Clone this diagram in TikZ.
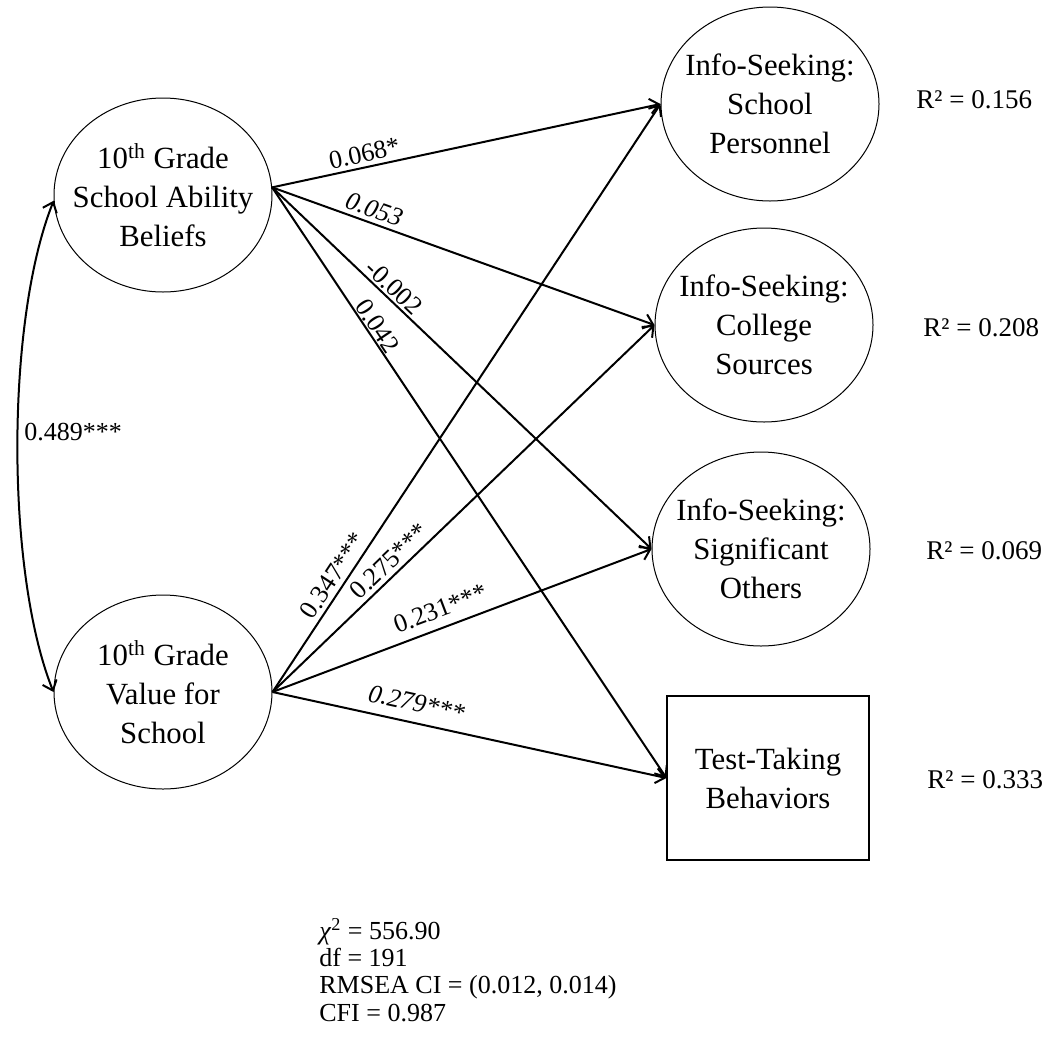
\documentclass[tikz,border=0pt]{standalone}
\usepackage{fontspec}
\setmainfont{Liberation Serif}
\usetikzlibrary{shapes.geometric,arrows.meta}

\tikzset{
  latent/.style={ellipse, draw, line width=0.5pt, inner sep=-20pt,
    minimum width=109pt, minimum height=97pt, align=center,
    font=\fontsize{15.4}{19.5}\selectfont},
  observed/.style={rectangle, draw, line width=0.6pt, inner sep=0pt,
    minimum width=101pt, minimum height=82pt, align=center,
    font=\fontsize{15.4}{19.5}\selectfont},
  path/.style={line width=1pt, -{Straight Barb[length=4.5pt,width=7.5pt]}},
  covpath/.style={line width=1pt, {Straight Barb[length=4.5pt,width=7.5pt]}-{Straight Barb[length=4.5pt,width=7.5pt]}},
  coef/.style={sloped, above, inner sep=2pt, font=\fontsize{13}{13}\selectfont},
  rsq/.style={anchor=west, inner sep=0pt, font=\fontsize{13.5}{14}\selectfont},
  fitstats/.style={anchor=north west, inner sep=0pt, align=left,
    font=\fontsize{13}{13.7}\selectfont}
}

\begin{document}
\begin{tikzpicture}[x=0.5pt, y=-0.5pt]
\useasboundingbox (0,0) rectangle (1047,1039);

% predictors
\node[latent] (sab) at (163,195) {10\textsuperscript{th} Grade\\School Ability\\Beliefs};
\node[latent] (vfs) at (163,692) {10\textsuperscript{th} Grade\\Value for\\School};

% outcomes
\node[latent] (isp) at (770,104) {Info-Seeking:\\School\\Personnel};
\node[latent] (ics) at (764,325) {Info-Seeking:\\College\\Sources};
\node[latent] (iso) at (761,549) {Info-Seeking:\\Significant\\Others};
\node[observed] (ttb) at (768,778) {Test-Taking\\Behaviors};

% explained variance
\node[rsq] (r1) at (916,100) {R² = 0.156};
\node[rsq] (r2) at (923,328) {R² = 0.208};
\node[rsq] (r3) at (926,551) {R² = 0.069};
\node[rsq] (r4) at (927,780) {R² = 0.333};

% covariance between predictors
\draw[covpath] (sab.183) .. controls +(-48,120) and +(-48,-120) .. (vfs.west);
\node[font=\fontsize{13}{13}\selectfont, anchor=west, inner sep=0pt] (cov) at (24,432) {0.489***};

% paths from ability beliefs
\draw[path] (sab.4) -- node[coef, pos=0.245] {0.068*} (isp.west);
\draw[path] (sab.4) -- node[coef, pos=0.255] {\itshape 0.053} (ics.west);
\draw[path] (sab.4) -- node[coef, pos=0.30, inner sep=1pt] {-0.002} (iso.west);
\draw[path] (sab.4) -- node[coef, pos=0.245, inner sep=0.5pt] {0.042} (ttb.west);

% paths from value for school
\draw[path] (vfs.east) -- node[coef, pos=0.185] {0.347***} (isp.west);
\draw[path] (vfs.east) -- node[coef, pos=0.33] {0.275***} (ics.west);
\draw[path] (vfs.east) -- node[coef, pos=0.46, inner sep=4.5pt] {0.231***} (iso.west);
\draw[path] (vfs.east) -- node[coef, pos=0.355, inner sep=5pt] {\itshape 0.279***} (ttb.west);

% model fit
\node[fitstats] (fit) at (319,918) {\textit{χ}\textsuperscript{2} = 556.90\\df = 191\\RMSEA CI = (0.012,\ 0.014)\\CFI = 0.987};
\end{tikzpicture}
\end{document}
